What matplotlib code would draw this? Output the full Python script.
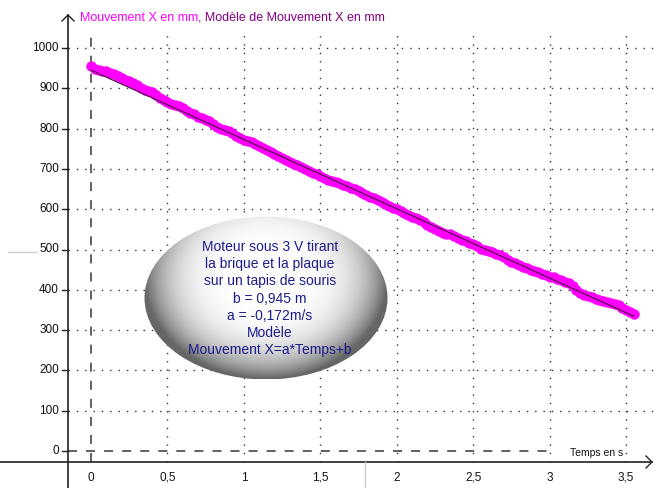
import numpy as np
import matplotlib
matplotlib.use("Agg")
import matplotlib.pyplot as plt
from matplotlib.patches import Ellipse

matplotlib.rcParams['font.family'] = ['Liberation Sans', 'DejaVu Sans']

# measured positions (s, mm), one sample every 25 ms
temps = [0.000, 0.025, 0.050, 0.075, 0.100, 0.125, 0.150, 0.175, 0.200, 0.225,
         0.250, 0.275, 0.300, 0.325, 0.350, 0.375, 0.400, 0.425, 0.450, 0.475,
         0.500, 0.525, 0.550, 0.575, 0.600, 0.625, 0.650, 0.675, 0.700, 0.725,
         0.750, 0.775, 0.800, 0.825, 0.850, 0.875, 0.900, 0.925, 0.950, 0.975,
         1.000, 1.025, 1.050, 1.075, 1.100, 1.125, 1.150, 1.175, 1.200, 1.225,
         1.250, 1.275, 1.300, 1.325, 1.350, 1.375, 1.400, 1.425, 1.450, 1.475,
         1.500, 1.525, 1.550, 1.575, 1.600, 1.625, 1.650, 1.675, 1.700, 1.725,
         1.750, 1.775, 1.800, 1.825, 1.850, 1.875, 1.900, 1.925, 1.950, 1.975,
         2.000, 2.025, 2.050, 2.075, 2.100, 2.125, 2.150, 2.175, 2.200, 2.225,
         2.250, 2.275, 2.300, 2.325, 2.350, 2.375, 2.400, 2.425, 2.450, 2.475,
         2.500, 2.525, 2.550, 2.575, 2.600, 2.625, 2.650, 2.675, 2.700, 2.725,
         2.750, 2.775, 2.800, 2.825, 2.850, 2.875, 2.900, 2.925, 2.950, 2.975,
         3.000, 3.025, 3.050, 3.075, 3.100, 3.125, 3.150, 3.175, 3.200, 3.225,
         3.250, 3.275, 3.300, 3.325, 3.350, 3.375, 3.400, 3.425, 3.450, 3.475,
         3.500, 3.525, 3.550]
mouvement_x = [955, 948, 945, 944, 942, 938, 935, 930, 925, 921,
               917, 913, 908, 901, 897, 894, 890, 883, 877, 871,
               866, 862, 858, 855, 850, 843, 838, 835, 830, 826,
               822, 818, 812, 805, 800, 797, 793, 788, 782, 777,
               772, 769, 766, 762, 757, 751, 746, 742, 738, 733,
               728, 722, 717, 713, 709, 705, 700, 695, 691, 687,
               683, 677, 672, 669, 667, 664, 661, 657, 653, 649,
               645, 640, 635, 631, 627, 622, 618, 613, 608, 604,
               600, 596, 591, 586, 581, 577, 572, 567, 562, 556,
               550, 545, 541, 539, 538, 533, 528, 524, 520, 517,
               514, 508, 502, 499, 497, 494, 490, 486, 481, 475,
               470, 466, 462, 457, 453, 449, 446, 443, 440, 436,
               433, 431, 428, 425, 420, 416, 410, 400, 392, 388,
               385, 381, 377, 374, 372, 370, 368, 365, 362, 356,
               350, 345, 340]

# model X = a*t + b
a_model = -0.172  # m/s
b_model = 0.945   # m

x_ticks = [0, 0.5, 1, 1.5, 2, 2.5, 3, 3.5]
x_labels = ['0', '0,5', '1', '1,5', '2', '2,5', '3', '3,5']
y_ticks = [0, 100, 200, 300, 400, 500, 600, 700, 800, 900, 1000]

W, H = 655, 488
x0_px, sx = 91.0, 152.9    # pixel of t=0, pixels per second
y0_px, sy = 451.0, 0.403   # pixel of X=0, pixels per mm

def tx(px):
    return (px - x0_px) / sx

def ty(py):
    return (y0_px - py) / sy

fig = plt.figure(figsize=(W / 100, H / 100), dpi=100)
ax = fig.add_axes([0, 0, 1, 1])
ax.set_xlim(tx(0), tx(W))
ax.set_ylim(ty(H), ty(0))
ax.axis('off')

dot = (0, (1, 5))
grid_col = '#333333'
y_axis_t = tx(68)
x_axis_v = ty(462)

# dotted grid
for t in x_ticks[1:]:
    ax.plot([t, t], [x_axis_v, ty(35)], color=grid_col, lw=1, ls=dot)
for v in y_ticks[1:]:
    ax.plot([y_axis_t, tx(655)], [v, v], color=grid_col, lw=1, ls=dot)

# dashed zero lines
ax.plot([0, 0], [x_axis_v, ty(35)], color='#555555', lw=1.3, ls=(0, (5, 5)))
ax.plot([y_axis_t, tx(552)], [0, 0], color='#555555', lw=1.3, ls=(0, (5, 5)))

# axes with arrows
ax.plot([y_axis_t, y_axis_t], [ty(H), ty(15)], color='#222222', lw=1.2)
ax.plot([tx(62), tx(68), tx(74)], [ty(21), ty(15), ty(21)], color='#222222', lw=1)
ax.plot([tx(0), tx(652)], [x_axis_v, x_axis_v], color='#222222', lw=1.2)
ax.plot([tx(646), tx(652), tx(646)], [ty(456), ty(462), ty(468)], color='#222222', lw=1)

# stray separators
ax.plot([tx(365), tx(365)], [ty(462), ty(H)], color='#cccccc', lw=1)
ax.plot([tx(8), tx(37)], [ty(252), ty(252)], color='#cccccc', lw=1)

# ticks and labels
for v in y_ticks:
    ax.plot([tx(62), tx(68)], [v, v], color='#222222', lw=1)
    ax.text(tx(59), v, str(v), ha='right', va='center', fontsize=8.5, color='#111111')
for t, lab in zip(x_ticks, x_labels):
    ax.text(t, ty(478), lab, ha='center', va='center', fontsize=8.5, color='#111111')

ax.text(tx(570), ty(453), 'Temps en s', ha='left', va='center', fontsize=7.5,
        color='#111111', bbox=dict(boxstyle='square,pad=0.1', fc='white', ec='none'))

# legend line at top
leg1 = ax.text(tx(80), ty(18), 'Mouvement X en mm', ha='left', va='center',
               fontsize=9, color='#ff00ff')
fig.canvas.draw()
bb = leg1.get_window_extent()
ax.annotate(', Modèle de Mouvement X en mm', xy=(bb.x1, (bb.y0 + bb.y1) / 2),
            xycoords='figure pixels', ha='left', va='center', fontsize=9,
            color='#800080')

# data and model
ax.plot(temps, mouvement_x, 'o', color='#ff00ff', ms=7.5, mec='none', zorder=3)
t_model = np.array([temps[0], temps[-1]])
ax.plot(t_model, (a_model * t_model + b_model) * 1000, color='#5a0a50', lw=0.9, zorder=4)

# shaded ellipse annotation
cx, cy = tx(266), ty(298)
ew, eh = 243 / sx, 163 / sy
u = np.linspace(-1, 1, 300)
vv = np.linspace(-1, 1, 200)
U, V = np.meshgrid(u, vv)
d = np.sqrt(U ** 2 + ((V + 0.25) / 1.25) ** 2)
shade = 1.0 - 0.6 * np.clip(d, 0, 1.3) ** 4
shade = np.clip(shade, 0.4, 1.0)
img = ax.imshow(shade, cmap='gray', vmin=0, vmax=1, origin='upper',
                extent=[cx - ew / 2, cx + ew / 2, cy - eh / 2, cy + eh / 2],
                aspect='auto', zorder=5, interpolation='bilinear')
ell = Ellipse((cx, cy), ew, eh, transform=ax.transData, fc='none', ec='none')
ax.add_patch(ell)
img.set_clip_path(ell)

note = ['Moteur sous 3 V tirant', 'la brique et la plaque',
        'sur un tapis de souris', 'b = 0,945 m', 'a = -0,172m/s',
        'Modèle', 'Mouvement X=a*Temps+b']
for i, line in enumerate(note):
    ax.text(tx(270), ty(247 + i * 17.2), line, ha='center', va='center',
            fontsize=10, color='#1c1c8c', zorder=6)

fig.savefig('out.png', dpi=100)
